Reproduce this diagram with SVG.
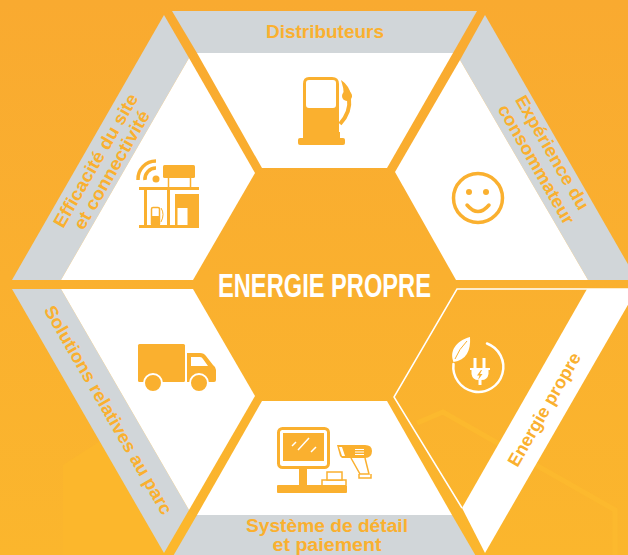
<svg xmlns="http://www.w3.org/2000/svg" width="628" height="555" viewBox="0 0 628 555">
<style>
.band{fill:#d1d6d9}
.panel{fill:#fff}
.ic{fill:#fab02f}
.st{fill:none;stroke:#fab02f}
.wf{fill:#fff}
.ws{fill:none;stroke:#fff}
text{font-family:"Liberation Sans",Arial,sans-serif;font-weight:700;fill:#fab02f;text-anchor:middle}
.lab{font-size:18px}
</style>
<defs>
<linearGradient id="bg" x1="0" y1="0" x2="0" y2="1"><stop offset="0" stop-color="#f9aa30"/><stop offset="0.5" stop-color="#fab02f"/><stop offset="1" stop-color="#fbb62d"/></linearGradient>
</defs>
<rect width="628" height="555" fill="url(#bg)"/>
<g id="background-facets">
<path d="M63 465L105 438L240 555H63Z" fill="#fcb72c"/>
<path d="M417 423L443 412L615 510V555" fill="none" stroke="#fcb92e" stroke-width="5"/>
</g>
<g id="node-distributeurs">
<path class="band" d="M172 11H477L453 53H197Z"/>
<path class="panel" d="M197 53H453L387 168H262Z"/>
<g>
<path class="ic" fill-rule="evenodd" d="M309 77H332Q339 77 339 84V135H303V84Q303 77 309 77ZM309 80Q306 80 306 83V105Q306 108 309 108H333Q336 108 336 105V83Q336 80 333 80Z"/>
<rect class="ic" x="298" y="138" width="47" height="7" rx="2"/>
<rect class="ic" x="303" y="132" width="37" height="7"/>
<path class="ic" d="M341 80Q349 85 352 97L344 97Q344 88 341 80Z"/>
<circle class="ic" cx="347" cy="96" r="5"/>
<path class="st" stroke-width="4" d="M349 98Q351 112 340 124"/>
</g>
<text class="lab" x="325" y="38" textLength="118" lengthAdjust="spacingAndGlyphs">Distributeurs</text>
</g>
<g id="node-experience">
<path class="band" d="M485 15L637 280H588L460 60Z"/>
<path class="panel" d="M460 60L588 280H456L395 172Z"/>
<circle class="st" stroke-width="3.5" cx="478" cy="198" r="24.5"/>
<circle class="ic" cx="469" cy="192" r="3"/>
<circle class="ic" cx="486" cy="192" r="3"/>
<path class="st" stroke-width="3.5" stroke-linecap="round" d="M467 205Q478 218 489 205"/>
<text class="lab" transform="translate(547 155.500) rotate(60)" textLength="129" lengthAdjust="spacingAndGlyphs">Expérience du</text>
<text class="lab" transform="translate(531 167.500) rotate(60)" textLength="135" lengthAdjust="spacingAndGlyphs">consommateur</text>
</g>
<g id="node-energie-propre">
<path class="panel" d="M587 289H637L485 553L462 508Z"/>
<path class="ws" stroke-width="1.5" d="M628 289H457L394 397L462 508"/>
<g>
<path class="ws" stroke-width="2.5" stroke-linecap="round" d="M487 343.500A25 25 0 1 1 453.500 364"/>
<path class="wf" d="M453.500 362C449 351 456 341 470 337C471 351 466 360 453.500 362Z"/>
<path class="st" stroke-width="1" d="M455 359Q459 349 467 341"/>
<path class="wf" d="M473.500 358h3v10h6v-10h3v10h4.500v2h-1.500v4q-1 6-7 6v5h-3v-5q-6 0-7-6v-4h-1.500v-2h3.500z"/>
<path class="ic" d="M481 370l-4 5.500h2.500l-1.500 4.500 4.500-6h-2.500l2-4z"/>
</g>
<text class="lab" transform="translate(549.500 412.500) rotate(-60)" textLength="128" lengthAdjust="spacingAndGlyphs">Energie propre</text>
</g>
<g id="node-systeme">
<path class="band" d="M197 515H452L477 558H172Z"/>
<path class="panel" d="M262 401H387L452 515H197Z"/>
<g>
<rect class="st" stroke-width="3" x="278.500" y="428.500" width="50" height="39" rx="4"/>
<rect class="ic" x="283" y="433" width="41" height="28"/>
<path class="ws" stroke-width="1.500" d="M292 446L296 442M298 450L309 438M311 452L316 447"/>
<rect class="ic" x="299" y="468" width="8" height="18"/>
<rect class="ic" x="277" y="485" width="70" height="8" rx="1"/>
<path class="st" stroke-width="1.500" d="M322 485V480H346V485"/>
<rect class="panel" x="327" y="472" width="15" height="8" stroke="#fab02f" stroke-width="1.500"/>
<path class="ic" d="M337 445H365Q372 445 372 451Q372 458 365 458H352L351 458H342L340 456Z"/>
<path class="panel" d="M339 447H342L345 456H342Z"/>
<path class="st" stroke-width="1.500" d="M351 458L360 474H369L365 458M359 474V478H371V474"/>
<path class="ws" stroke-width="1" d="M355 449.500H364M355 452H364M355 454.500H364"/>
</g>
<text class="lab" x="327" y="532" textLength="162" lengthAdjust="spacingAndGlyphs">Système de détail</text>
<text class="lab" x="327" y="551" textLength="109" lengthAdjust="spacingAndGlyphs">et paiement</text>
</g>
<g id="node-solutions">
<path class="band" d="M12 289H61L189 510L164 553Z"/>
<path class="panel" d="M61 289H193L255 396L189 510Z"/>
<g>
<rect class="ic" x="138" y="344" width="47" height="38" rx="1.500"/>
<path class="ic" d="M187 353H200Q204 353 206 356L213 365Q216 367 216 370V380Q216 382 214 382H187Z"/>
<path class="wf" d="M191 357H200Q202 357 203 359L208 366H191Z"/>
<circle class="ic" cx="153" cy="383" r="9" stroke="#fff" stroke-width="2"/>
<circle class="ic" cx="199" cy="383" r="9" stroke="#fff" stroke-width="2"/>
</g>
<text class="lab" transform="translate(103 413) rotate(60)" textLength="238" lengthAdjust="spacingAndGlyphs">Solutions relatives au parc</text>
</g>
<g id="node-efficacite">
<path class="band" d="M164 15L189 58L61 280H12Z"/>
<path class="panel" d="M189 58L255 173L193 280H61Z"/>
<g>
<circle class="ic" cx="156" cy="179" r="3.500"/>
<path class="st" stroke-width="3.500" d="M138 180A18 18 0 0 1 156 161M145 180A11 11 0 0 1 156 168"/>
<rect class="ic" x="163" y="165" width="32" height="13" rx="1.500"/>
<path class="st" stroke-width="1.500" d="M168.500 178V187M190.500 178V187"/>
<rect class="ic" x="139" y="187" width="60" height="3"/>
<rect class="ic" x="144" y="190" width="3" height="36"/>
<rect class="ic" x="167" y="190" width="3" height="36"/>
<rect class="ic" x="139" y="225" width="60" height="3"/>
<rect class="ic" x="175" y="194" width="24" height="33"/>
<rect class="panel" x="177.500" y="208" width="10" height="17"/>
<rect class="st" stroke-width="1.500" x="151.500" y="207.500" width="8" height="18" rx="1.500"/>
<rect class="ic" x="152" y="216" width="7" height="9"/>
<path class="st" stroke-width="1" d="M161 208Q165 214 161 222"/>
</g>
<text class="lab" transform="translate(101 163.500) rotate(-60)" textLength="151" lengthAdjust="spacingAndGlyphs">Efficacité du site</text>
<text class="lab" transform="translate(117 173) rotate(-60)" textLength="134" lengthAdjust="spacingAndGlyphs">et connectivité</text>
</g>
<g id="node-centre">
<text x="324.500" y="297" font-size="33" style="fill:#fff" textLength="213" lengthAdjust="spacingAndGlyphs">ENERGIE PROPRE</text>
</g>
<g id="connectors"/>
</svg>
